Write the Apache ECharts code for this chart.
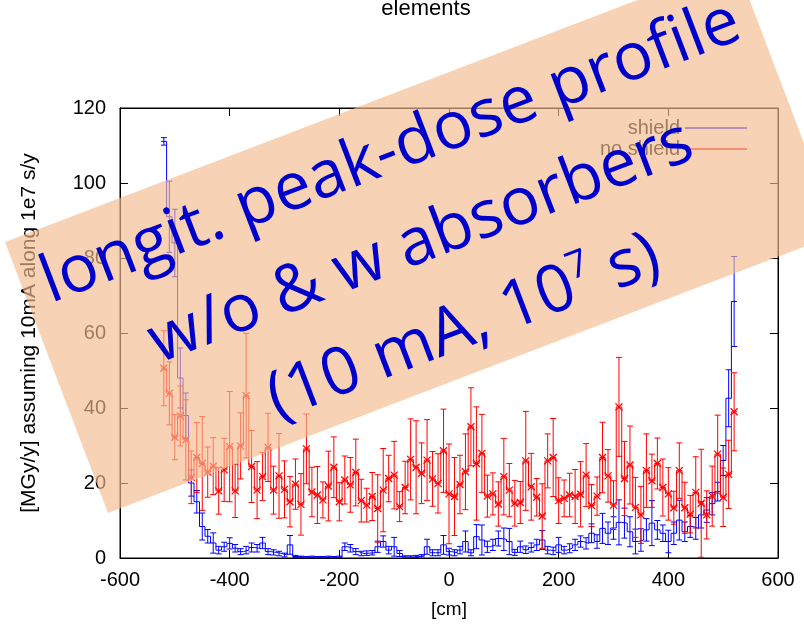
<!DOCTYPE html>
<html>
<head>
<meta charset="utf-8">
<script src="https://cdn.jsdelivr.net/npm/echarts@6/dist/echarts.min.js"></script>
<style>
  html, body { margin: 0; padding: 0; background: #fff; }
  #chart { width: 804px; height: 624px; }
</style>
</head>
<body>
<div id="chart"></div>
<script>
// Bin centres along the beam line [cm]
const binCentres = [
  -520, -510, -500, -490, -480, -470, -460, -450, -440, -430,
  -420, -410, -400, -390, -380, -370, -360, -350, -340, -330,
  -320, -310, -300, -290, -280, -270, -260, -250, -240, -230,
  -220, -210, -200, -190, -180, -170, -160, -150, -140, -130,
  -120, -110, -100, -90, -80, -70, -60, -50, -40, -30,
  -20, -10, 0, 10, 20, 30, 40, 50, 60, 70,
  80, 90, 100, 110, 120, 130, 140, 150, 160, 170,
  180, 190, 200, 210, 220, 230, 240, 250, 260, 270,
  280, 290, 300, 310, 320, 330, 340, 350, 360, 370,
  380, 390, 400, 410, 420, 430, 440, 450, 460, 470,
  480, 490, 500, 510, 520
];

// Peak dose with absorbers [MGy/y]
const shieldDose = [
  111.1, 91, 84, 48, 38, 20, 15, 8.4, 5.8, 4,
  2.1, 3, 3.9, 2.6, 1.7, 2.1, 2.8, 2.6, 4.0, 1.7,
  1.5, 1.2, 0.8, 3.5, 0.4, 0.3, 0.2, 0.3, 0.2, 0.2,
  0.3, 0.2, 0.3, 3.0, 2.6, 1.7, 1.2, 1.3, 1.4, 3.0,
  4.4, 2.1, 3.0, 1.2, 0.3, 0.3, 0.4, 0.6, 3.0, 1.4,
  1.4, 3.5, 1.7, 1.4, 2.1, 4.4, 1.4, 5.7, 4.8, 3.0,
  3.5, 5.2, 5.0, 4.4, 1.5, 3.0, 2.2, 2.8, 3.5, 4.8,
  2.1, 1.9, 3.5, 2.1, 2.6, 3.5, 4.4, 3.9, 6.6, 4.4,
  7.9, 6.6, 8.0, 9.5, 9.3, 7.0, 4.4, 4.8, 7.5, 9.3,
  7.5, 6.6, 4.4, 6.6, 10.1, 7.0, 8.4, 7.9, 11.5, 12.8,
  14.5, 17.7, 26, 42.6, 68.4
];
const shieldErr = [
  1.0, 9.5, 9.0, 8.0, 6.0, 3.5, 3.0, 3.6, 1.8, 2.7,
  1.0, 1.2, 1.5, 1.0, 0.8, 1.0, 1.2, 1.0, 1.5, 0.8,
  0.7, 0.6, 0.5, 2.5, 0.3, 0.2, 0.2, 0.2, 0.2, 0.2,
  0.2, 0.2, 0.2, 1.0, 1.0, 0.8, 0.6, 0.6, 0.6, 1.5,
  1.5, 1.0, 2.5, 0.8, 0.3, 0.3, 0.3, 0.3, 2.0, 0.8,
  0.8, 2.5, 0.9, 0.8, 1.0, 2.8, 0.8, 3.2, 4.0, 1.5,
  1.5, 2.0, 3.0, 3.5, 0.8, 1.5, 1.0, 1.2, 1.5, 2.5,
  1.0, 1.0, 2.0, 1.0, 1.2, 1.5, 1.5, 1.5, 2.5, 1.8,
  4.0, 3.0, 3.0, 6.0, 4.0, 4.0, 3.3, 3.0, 3.0, 6.0,
  2.5, 2.2, 3.0, 3.0, 5.3, 2.6, 2.9, 2.9, 3.5, 3.3,
  3.0, 2.5, 4.0, 7.6, 12.0
];

// Peak dose without absorbers [MGy/y]
const noShieldDose = [
  50.6, 43.9, 32.2, 37.9, 31.5, 21.5, 26.8, 25.2, 22.9, 24.5,
  17.9, 23.5, 29.7, 17.9, 29.9, 43.3, 24.4, 18.1, 21.7, 29.5,
  18.1, 21.9, 18.3, 15.0, 19.7, 14.3, 29.1, 17.6, 16.8, 15.5,
  19.2, 24.2, 15.0, 20.8, 19.5, 22.8, 15.3, 14.1, 16.4, 13.2,
  18.1, 21.2, 22.1, 13.7, 18.8, 26.3, 24.2, 22.6, 26.1, 21.1,
  19.9, 28.6, 17.1, 16.4, 19.6, 23.0, 35.0, 25.2, 27.9, 16.5,
  17.1, 14.4, 21.7, 18.1, 14.6, 14.8, 25.9, 19.0, 16.2, 11.2,
  25.9, 26.8, 15.3, 15.9, 16.8, 16.4, 17.0, 22.1, 14.0, 16.5,
  26.8, 21.9, 14.1, 40.3, 21.2, 24.8, 13.5, 11.5, 23.3, 20.6,
  25.2, 18.8, 17.1, 13.4, 23.3, 13.4, 11.7, 17.5, 14.6, 11.5,
  16.5, 27.7, 16.2, 22.3, 39.0
];
const noShieldErr = [
  10.0, 8.4, 6.0, 8.0, 10.7, 7.0, 9.3, 12.5, 6.7, 7.6,
  6.2, 8.4, 14.7, 7.1, 8.8, 16.6, 9.6, 7.6, 6.4, 9.1,
  6.4, 11.3, 7.6, 6.7, 6.7, 8.2, 9.3, 6.6, 7.6, 4.8,
  9.3, 8.1, 5.1, 6.4, 7.3, 8.9, 5.7, 4.5, 6.4, 9.0,
  11.1, 6.2, 9.0, 4.0, 7.0, 10.8, 12.4, 8.1, 10.8, 7.3,
  7.9, 11.1, 13.3, 10.4, 7.8, 10.1, 10.4, 15.1, 10.4, 5.6,
  5.6, 5.9, 10.2, 7.1, 6.1, 5.6, 13.2, 8.9, 5.0, 8.6,
  7.2, 10.4, 6.1, 4.9, 5.8, 7.2, 8.7, 8.4, 5.6, 5.1,
  9.4, 7.0, 6.5, 13.2, 9.9, 10.4, 8.0, 7.6, 9.8, 7.1,
  6.8, 7.6, 7.0, 4.4, 7.4, 6.8, 5.0, 9.5, 14.4, 6.4,
  8.0, 10.4, 7.8, 9.1, 10.4
];

const xTicks = { min: -600, max: 600, step: 200 };
const yTicks = { min: 0, max: 120, step: 20 };

const BLUE = '#0000ff';
const RED = '#ff0000';
const FONT = '"Liberation Sans", Arial, Helvetica, sans-serif';

// gnuplot-style histeps: horizontal runs over each bin, jumps at bin edges
function histeps(values) {
  const half = (binCentres[1] - binCentres[0]) / 2;
  const pts = values.map((v, i) => [binCentres[i] - half, v]);
  pts.push([binCentres[values.length - 1] + half, values[values.length - 1]]);
  return pts;
}

function errRows(values, errs) {
  return values.map((v, i) => [binCentres[i], v - errs[i], v + errs[i], v]);
}

function errorBarSeries(values, errs, color, withCross) {
  return {
    type: 'custom',
    xAxisIndex: 0,
    yAxisIndex: 0,
    clip: true,
    silent: true,
    z: withCross ? 4 : 3,
    data: errRows(values, errs),
    encode: { x: 0, y: [1, 2] },
    renderItem(params, api) {
      const x = api.value(0);
      const lo = api.coord([x, api.value(1)]);
      const hi = api.coord([x, api.value(2)]);
      const mid = api.coord([x, api.value(3)]);
      const cap = 3;
      const st = { stroke: color, lineWidth: 1 };
      const kids = [
        { type: 'line', shape: { x1: lo[0], y1: lo[1], x2: hi[0], y2: hi[1] }, style: st },
        { type: 'line', shape: { x1: lo[0] - cap, y1: lo[1], x2: lo[0] + cap, y2: lo[1] }, style: st },
        { type: 'line', shape: { x1: hi[0] - cap, y1: hi[1], x2: hi[0] + cap, y2: hi[1] }, style: st }
      ];
      if (withCross) {
        const s = 3.5;
        const cs = { stroke: color, lineWidth: 1.3 };
        kids.push(
          { type: 'line', shape: { x1: mid[0] - s, y1: mid[1] - s, x2: mid[0] + s, y2: mid[1] + s }, style: cs },
          { type: 'line', shape: { x1: mid[0] - s, y1: mid[1] + s, x2: mid[0] + s, y2: mid[1] - s }, style: cs }
        );
      }
      return { type: 'group', children: kids };
    }
  };
}

const chart = echarts.init(document.getElementById('chart'), null, { renderer: 'canvas' });

// Translucent annotation band laid over the plot
const bandAngle = 20.94 * Math.PI / 180;
const bandLen = 782;
const bandA = [5, 242];
const bandB = [108, 513];
const ux = Math.cos(bandAngle), uy = -Math.sin(bandAngle);
const bandPts = [
  bandA,
  bandB,
  [bandB[0] + bandLen * ux, bandB[1] + bandLen * uy],
  [bandA[0] + bandLen * ux, bandA[1] + bandLen * uy]
];

const noteFont = '"Open Sans", "Noto Sans", sans-serif';
const noteSize = 66;
const noteColor = '#0000cc';

function axisBase(extra) {
  return Object.assign({
    type: 'value',
    splitLine: { show: false },
    axisLine: { show: true, onZero: false, lineStyle: { color: '#000', width: 1 } },
    axisTick: { show: true, inside: true, length: 8, lineStyle: { color: '#000', width: 1 } }
  }, extra);
}

function stepLine(name, values, color, z) {
  return {
    name: name,
    type: 'line',
    step: 'end',
    data: histeps(values),
    symbol: 'none',
    showSymbol: false,
    silent: true,
    emphasis: { disabled: true },
    lineStyle: { color: color, width: 1 },
    itemStyle: { color: color },
    z: z
  };
}

chart.setOption({
  animation: false,
  backgroundColor: '#fff',
  title: {
    text: 'elements',
    left: 421,
    top: -7,
    textAlign: 'center',
    textStyle: { fontFamily: FONT, fontSize: 22, fontWeight: 'normal', color: '#000' }
  },
  grid: {
    left: 120, right: 26, top: 108, bottom: 66,
    show: true, borderColor: '#000', borderWidth: 1, backgroundColor: 'transparent'
  },
  legend: {
    data: ['shield', 'no shield'],
    orient: 'vertical',
    align: 'right',
    right: 52,
    top: 113,
    icon: 'rect',
    itemWidth: 62,
    itemHeight: 1.5,
    itemGap: 1,
    textStyle: { fontFamily: FONT, fontSize: 20, color: '#000' },
    selectedMode: false
  },
  xAxis: [
    axisBase({
      position: 'bottom',
      min: xTicks.min, max: xTicks.max, interval: xTicks.step,
      name: '[cm]',
      nameLocation: 'middle',
      nameGap: 42,
      nameTextStyle: { fontFamily: FONT, fontSize: 19, color: '#000' },
      axisLabel: { fontFamily: FONT, fontSize: 20, color: '#000', margin: 12 }
    }),
    axisBase({
      position: 'top',
      min: xTicks.min, max: xTicks.max, interval: xTicks.step,
      axisLabel: { show: false }
    })
  ],
  yAxis: [
    axisBase({
      position: 'left',
      min: yTicks.min, max: yTicks.max, interval: yTicks.step,
      name: '[MGy/y] assuming 10mA along 1e7 s/y',
      nameLocation: 'middle',
      nameRotate: 90,
      nameGap: 80,
      nameTextStyle: { fontFamily: FONT, fontSize: 21, color: '#000' },
      axisLabel: { fontFamily: FONT, fontSize: 20, color: '#000', margin: 14 }
    }),
    axisBase({
      position: 'right',
      min: yTicks.min, max: yTicks.max, interval: yTicks.step,
      axisLabel: { show: false }
    })
  ],
  series: [
    stepLine('shield', shieldDose, BLUE, 3),
    errorBarSeries(shieldDose, shieldErr, BLUE, false),
    stepLine('no shield', noShieldDose, RED, 4),
    errorBarSeries(noShieldDose, noShieldErr, RED, true)
  ],
  graphic: [
    {
      type: 'polygon',
      z: 100,
      silent: true,
      shape: { points: bandPts },
      style: { fill: 'rgba(245,186,142,0.65)' }
    },
    {
      type: 'text',
      z: 101,
      x: 391, y: 153,
      rotation: bandAngle,
      style: {
        text: 'longit. peak-dose profile',
        font: noteSize + 'px ' + noteFont,
        fill: noteColor,
        align: 'center',
        verticalAlign: 'middle'
      }
    },
    {
      type: 'text',
      z: 101,
      x: 421, y: 243,
      rotation: bandAngle,
      style: {
        text: 'w/o & w absorbers',
        font: noteSize + 'px ' + noteFont,
        fill: noteColor,
        align: 'center',
        verticalAlign: 'middle'
      }
    },
    {
      type: 'text',
      z: 101,
      x: 464, y: 328,
      rotation: bandAngle,
      style: {
        text: '{n|(10 mA, 10}{s|7}{n| s)}',
        align: 'center',
        verticalAlign: 'middle',
        fill: noteColor,
        rich: {
          n: { fontFamily: noteFont, fontSize: noteSize, fill: noteColor },
          s: { fontFamily: noteFont, fontSize: 38, fill: noteColor, padding: [0, 0, 34, 0] }
        }
      }
    }
  ]
});
</script>
</body>
</html>
